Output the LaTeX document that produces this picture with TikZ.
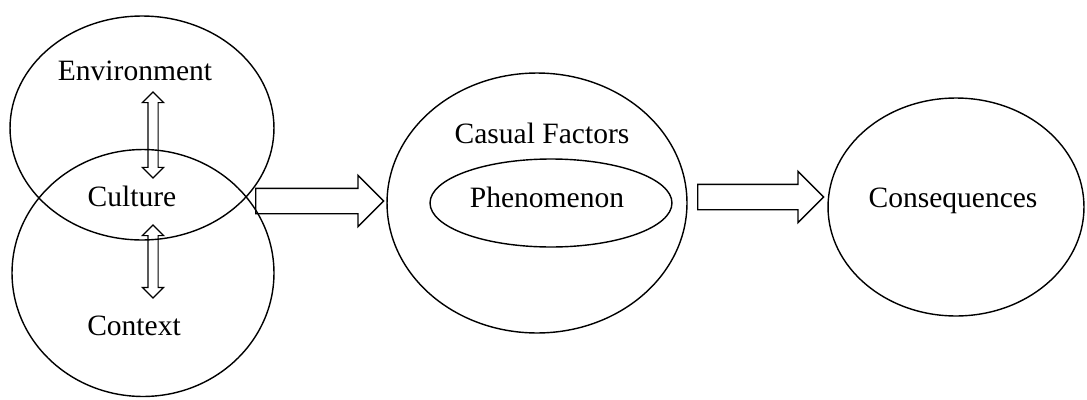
\documentclass[tikz,border=0pt]{standalone}
\usepackage{fontspec}
\setmainfont{Liberation Serif}
\usetikzlibrary{shapes.geometric,shapes.arrows}
\tikzset{
  bubble/.style={draw, ellipse, line width=0.8pt, inner sep=0pt},
  word/.style={anchor=base, inner sep=0pt, font=\fontsize{16.8}{20}\selectfont},
  twoway/.style={draw, double arrow, line width=0.7pt, inner sep=0.09cm, minimum width=0.4cm, double arrow head extend=0.11cm, shape border rotate=90},
  oneway/.style={draw, single arrow, line width=0.8pt, inner sep=0.24cm, minimum width=1cm, single arrow head extend=0.26cm, anchor=tail}
}
\begin{document}
\begin{tikzpicture}[x=0.02cm, y=-0.02cm]
\useasboundingbox (0,0) rectangle (1087,399);
\node [bubble, minimum width=5.28cm, minimum height=4.48cm] (env) at (142,128) {};
\node [bubble, minimum width=5.24cm, minimum height=4.94cm] (ctx) at (143,273) {};
\node [bubble, minimum width=6cm, minimum height=5.2cm] (cf) at (537,203) {};
\node [bubble, minimum width=4.84cm, minimum height=1.76cm] (ph) at (551,203) {};
\node [bubble, minimum width=5.12cm, minimum height=4.36cm] (cq) at (956,207) {};
\node [word] (tenv) at (135,80) {Environment};
\node [word] (tcul) at (132,206) {Culture};
\node [word] (tctx) at (134,335) {Context};
\node [word] (tcf) at (542,143) {Casual Factors};
\node [word] (tph) at (547,207) {Phenomenon};
\node [word] (tcq) at (953,207) {Consequences};
\node [twoway, minimum height=1.72cm] (ec) at (153,135) {};
\node [twoway, minimum height=1.46cm] (cc) at (153,261.5) {};
\node [oneway, minimum height=2.56cm] (go1) at (255,201) {};
\node [oneway, minimum height=2.52cm] (go2) at (697,197) {};
\end{tikzpicture}
\end{document}
